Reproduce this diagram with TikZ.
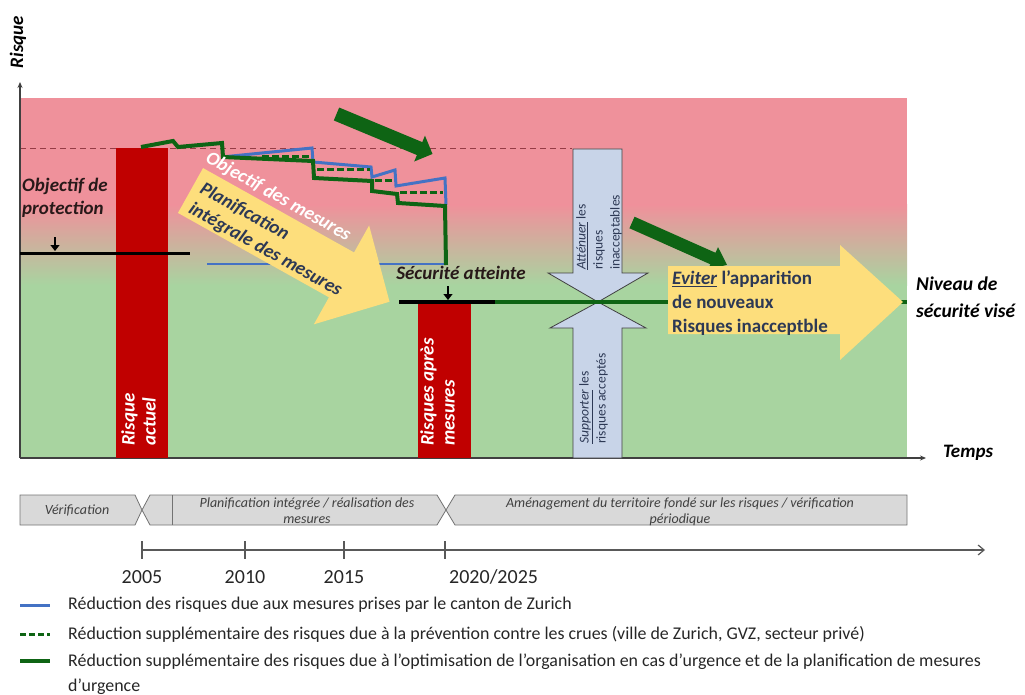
\documentclass[tikz,border=0pt]{standalone}
\usepackage{fontspec}
\setmainfont{Carlito}
\usetikzlibrary{arrows.meta}
\definecolor{pinkbg}{RGB}{239,145,155}
\definecolor{greenbg}{RGB}{168,212,160}
\definecolor{redbar}{RGB}{192,0,0}
\definecolor{dgreen}{RGB}{14,100,20}
\definecolor{bline}{RGB}{68,114,196}
\definecolor{yarrow}{RGB}{253,222,124}
\definecolor{barrow}{RGB}{200,212,232}
\definecolor{navy}{RGB}{45,57,85}
\definecolor{tlgray}{RGB}{217,217,217}
\definecolor{dashred}{RGB}{150,60,70}
\definecolor{darktxt}{RGB}{40,25,25}
\tikzset{
  lbl/.style={font=\fontsize{19}{23}\selectfont\bfseries\itshape, inner sep=0pt, text=darktxt},
  wlbl/.style={font=\fontsize{19}{21}\selectfont\bfseries\itshape, inner sep=0pt, text=white},
  legtxt/.style={font=\fontsize{17.9}{20}\selectfont, anchor=west, inner sep=0pt, text=black!85},
  tltxt/.style={font=\fontsize{14}{16}\selectfont\itshape, inner sep=0pt, text=black!75, align=center},
  yrtxt/.style={font=\fontsize{20}{22}\selectfont, inner sep=0pt, text=black!85},
  bartxt/.style={font=\fontsize{13.5}{17}\selectfont, inner sep=0pt, text=navy, align=left, rotate=90, anchor=north west},
  tlbox/.style={fill=tlgray, draw=black!55, line width=0.8pt},
  bigarrow/.style={fill=barrow, draw=black!75, line width=0.8pt},
  axis/.style={draw=black!75, line width=1.2pt},
}
\begin{document}
\begin{tikzpicture}[x=1pt,y=-1pt]
\useasboundingbox (0,0) rectangle (1025,695);
% background
\fill[pinkbg] (20,98) rectangle (907,205);
\shade[top color=pinkbg, bottom color=greenbg] (20,205) rectangle (907,285);
\fill[greenbg] (20,285) rectangle (907,458);
% dashed reference line
\draw[dashred, line width=0.8pt, dash pattern=on 6pt off 4pt] (20,148) -- (572,148);
% axes
\coordinate (yo) at (20,458);
\coordinate (ytop) at (20,82);
\coordinate (xend) at (926,458);
\draw[axis, -{Stealth[length=6pt,width=5pt]}] (yo) -- (ytop);
\draw[axis, -{Stealth[length=6pt,width=5pt]}] (yo) -- (xend);
\node[lbl, text=black, rotate=90] (risque) at (18,42) {Risque};
\node[lbl, text=black] (temps) at (968,453) {Temps};
% red bars
\fill[redbar] (116,148) rectangle (168,458);
\fill[redbar] (418,302) rectangle (471,458);
\node[wlbl, rotate=90, anchor=north west, align=left] (ractuel) at (121,446) {Risque\\actuel};
\node[wlbl, rotate=90, anchor=north west, align=left] (rapres) at (420,446) {Risques après\\mesures};
% objectif de protection
\node[lbl, anchor=west, align=left] (objprot) at (22,198) {Objectif de\\protection};
\draw[black, line width=3pt] (20,253) -- (190,253);
\coordinate (oa1) at (55,237);
\coordinate (oa2) at (55,251);
\draw[black, line width=1.2pt, -{Triangle[length=6pt,width=9pt]}] (oa1) -- (oa2);
% step lines
\draw[bline, line width=2pt] (207,264) -- (446,264);
\draw[bline, line width=3pt] (222,157) -- (312,148) -- (313,162) -- (371,167) -- (372,177) -- (395,170) -- (396,186) -- (445,178) -- (446,205);
\draw[dgreen, line width=3pt, dash pattern=on 7pt off 3pt] (262,157) -- (310,157);
\draw[dgreen, line width=3pt, dash pattern=on 7pt off 3pt] (317,170) -- (370,170);
\draw[dgreen, line width=3pt, dash pattern=on 7pt off 3pt] (375,181) -- (393,181);
\draw[dgreen, line width=3pt, dash pattern=on 7pt off 3pt] (400,193) -- (443,193);
\draw[dgreen, line width=4pt] (141,147) -- (173,141) -- (178,147) -- (222,143) -- (223,157) -- (313,161) -- (314,178) -- (372,181) -- (372,191) -- (397,194) -- (398,203) -- (445,206) -- (446,265);
% yellow arrow 1
\begin{scope}[shift={(190.5,190.5)}, rotate=-29.2]
\fill[yarrow] (0,-25.7) -- (173,-25.7) -- (173,-56.6) -- (228,0) -- (173,56.6) -- (173,25.7) -- (0,25.7) -- cycle;
\node[lbl, text=navy, transform shape, anchor=west, align=left] (planif) at (8,4) {Planification\\intégrale des mesures};
\node[wlbl, transform shape, anchor=west] (objmes) at (-2,-37) {Objectif des mesures};
\end{scope}
% green arrows
\begin{scope}[shift={(336.5,114)}, rotate=-22.6]
\fill[dgreen] (0,-7) -- (90,-7) -- (90,-14) -- (104,0) -- (90,14) -- (90,7) -- (0,7) -- cycle;
\end{scope}
\begin{scope}[shift={(632,222.5)}, rotate=-24]
\fill[dgreen] (0,-6.3) -- (88.6,-6.3) -- (88.6,-12.5) -- (104,0) -- (88.6,12.5) -- (88.6,6.3) -- (0,6.3) -- cycle;
\end{scope}
% securite atteinte
\node[lbl] (secatt) at (461,273) {Sécurité atteinte};
\coordinate (sa1) at (448,286);
\coordinate (sa2) at (448,300);
\draw[black, line width=1.2pt, -{Triangle[length=6pt,width=9pt]}] (sa1) -- (sa2);
\draw[black, line width=3.5pt] (399,302) -- (495,302);
% blue-gray arrows
\draw[bigarrow] (573,149) -- (622,149) -- (622,273) -- (648,273) -- (598,302) -- (548,273) -- (573,273) -- cycle;
\draw[bigarrow] (573,458) -- (622,458) -- (622,328) -- (646,328) -- (598,302) -- (550,328) -- (573,328) -- cycle;
\node[bartxt] (att) at (576,270) {\underline{\textit{Atténuer}} les\\risques\\inacceptables};
\node[bartxt] (sup) at (579,444) {\underline{\textit{Supporter}} les\\risques acceptés};
% target level line
\draw[dgreen, line width=3.5pt] (495,302) -- (907,302);
% yellow arrow 2
\fill[yarrow] (668,266) -- (840,266) -- (840,245) -- (903,302) -- (840,360) -- (840,334) -- (668,334) -- cycle;
\node[font=\fontsize{19}{24}\selectfont\bfseries, text=navy, inner sep=0pt, anchor=west, align=left] (eviter) at (672,303) {\underline{\textit{Eviter}} l’apparition\\de nouveaux\\Risques inacceptble};
\node[font=\fontsize{19.5}{27}\selectfont\bfseries\itshape, text=black, inner sep=0pt, anchor=west, align=left] (niveau) at (916,297) {Niveau de\\sécurité visé};
% timeline boxes
\draw[tlbox] (20,495) -- (135,495) -- (142,510) -- (135,525) -- (20,525) -- cycle;
\draw[tlbox] (150,495) -- (437,495) -- (446,510) -- (437,525) -- (150,525) -- (142,510) -- cycle;
\draw[black!55, line width=0.8pt] (172,495) -- (172,525);
\draw[tlbox] (455,495) -- (907,495) -- (907,525) -- (455,525) -- (446,510) -- cycle;
\node[tltxt] (verif) at (77,510) {Vérification};
\node[tltxt] (planreal) at (307,511) {Planification intégrée / réalisation des\\mesures};
\node[tltxt] (amen) at (680,512) {Aménagement du territoire fondé sur les risques / vérification\\périodique};
% time axis
\coordinate (t0) at (142,550);
\coordinate (tend) at (985,550);
\draw[draw=black!65, line width=1.2pt, -{Straight Barb[length=6pt,width=10pt]}] (t0) -- (tend);
\foreach \xx in {142,245,344,445} { \draw[black!65, line width=1.2pt] (\xx,541) -- (\xx,559); }
\node[yrtxt] (y05) at (142,577) {2005};
\node[yrtxt] (y10) at (245,577) {2010};
\node[yrtxt] (y15) at (344,577) {2015};
\node[yrtxt, anchor=west] (y20) at (449,577) {2020/2025};
% legend
\draw[bline, line width=3pt] (20,605) -- (50,605);
\draw[dgreen, line width=3pt, dash pattern=on 6pt off 3pt] (20,634) -- (50,634);
\draw[dgreen, line width=3.5pt] (20,661) -- (50,661);
\node[legtxt] (leg1) at (68,605) {Réduction des risques due aux mesures prises par le canton de Zurich};
\node[legtxt] (leg2) at (68,634) {Réduction supplémentaire des risques due à la prévention contre les crues (ville de Zurich, GVZ, secteur privé)};
\node[legtxt] (leg3) at (68,662) {Réduction supplémentaire des risques due à l’optimisation de l’organisation en cas d’urgence et de la planification de mesures};
\node[legtxt] (leg4) at (68,687) {d’urgence};
\end{tikzpicture}
\end{document}
